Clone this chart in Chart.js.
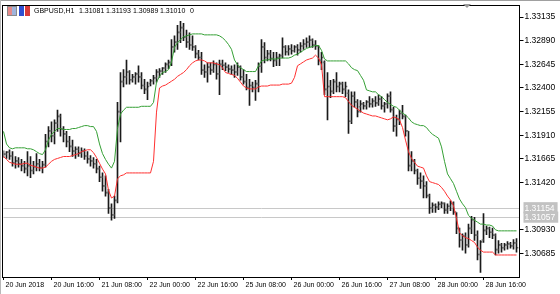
<!DOCTYPE html>
<html>
<head>
<meta charset="utf-8">
<script src="https://cdn.jsdelivr.net/npm/chart.js@4.4.1/dist/chart.umd.min.js"></script>
<style>
  html, body { margin: 0; padding: 0; background: #fff; }
  #wrap { position: relative; width: 560px; height: 294px; overflow: hidden; }
  #wrap canvas { position: absolute; left: 0; top: 0; }
  .edge-top { position: absolute; left: 0; top: 0; width: 560px; height: 1px; background: #a0a0a0; }
  .edge-left { position: absolute; left: 0; top: 0; width: 1px; height: 294px; background: #b8b8b8; }
  .hdr { position: absolute; top: 6px; font: 7px "Liberation Sans", Arial, sans-serif; line-height: 9px; color: #000; white-space: pre; }
  .ico1 { position: absolute; left: 7px; top: 6px; width: 8px; height: 8px; border: 1px solid #8a8a8a;
          background: linear-gradient(to right, #e58a8a 50%, #9fb4dc 50%); }
  .ico2 { position: absolute; left: 19px; top: 6px; width: 11px; height: 10px;
          background: linear-gradient(to right, #2f4fd0 45%, #fff 45%, #fff 55%, #d83a3a 55%); }
  .shift { position: absolute; left: 463px; top: 4px; width: 0; height: 0;
           border-left: 4px solid transparent; border-right: 4px solid transparent; border-top: 4px solid #9a9a9a; }
</style>
</head>
<body>
<div id="wrap">
  <canvas id="chart" width="560" height="294"></canvas>
  <div class="edge-top"></div>
  <div class="edge-left"></div>
  <div class="ico1"></div>
  <div class="ico2"></div>
  <span class="hdr" style="left:34px">GBPUSD,H1</span>
  <span class="hdr" style="left:79px">1.31081</span>
  <span class="hdr" style="left:106px">1.31193</span>
  <span class="hdr" style="left:133px">1.30989</span>
  <span class="hdr" style="left:160px">1.31010</span>
  <span class="hdr" style="left:190px">0</span>
  <div class="shift"></div>
</div>
<script>
// hourly bars, 20 Jun 2018 00:00 .. 29 Jun 03:00 (weekend skipped)
const tradingDays = ['20 Jun', '21 Jun', '22 Jun', '25 Jun', '26 Jun', '27 Jun', '28 Jun', '29 Jun'];
const categories = [];
tradingDays.forEach(d => {
    for (let h = 0; h < 24; h++) categories.push(d + ' ' + String(h).padStart(2, '0') + ':00');
});
categories.length = 173;

const xTickAt = ['20 Jun 00:00', '20 Jun 16:00', '21 Jun 08:00', '22 Jun 00:00', '22 Jun 16:00', '25 Jun 08:00',
    '26 Jun 00:00', '26 Jun 16:00', '27 Jun 08:00', '28 Jun 00:00', '28 Jun 16:00'];
const xTickLabels = ['20 Jun 2018', '20 Jun 16:00', '21 Jun 08:00', '22 Jun 00:00', '22 Jun 16:00', '25 Jun 08:00',
    '26 Jun 00:00', '26 Jun 16:00', '27 Jun 08:00', '28 Jun 00:00', '28 Jun 16:00'];

const yTicks = [1.33135, 1.32890, 1.32645, 1.32400, 1.32155, 1.31910, 1.31665, 1.31420, 1.31154, 1.31057, 1.30930, 1.30685];
const priceLines = [1.31154, 1.31057];

const opens = [
    1.3172, 1.3171, 1.3173, 1.3169, 1.3162, 1.3164, 1.3161, 1.3159, 1.3156, 1.3159,
    1.3154, 1.3158, 1.3161, 1.3157, 1.3160, 1.3184, 1.3195, 1.3190, 1.3203, 1.3210,
    1.3197, 1.3192, 1.3184, 1.3179, 1.3174, 1.3176, 1.3172, 1.3174, 1.3169, 1.3166,
    1.3164, 1.3161, 1.3156, 1.3147, 1.3138, 1.3131, 1.3115, 1.3108, 1.3123, 1.3215,
    1.3246, 1.3251, 1.3256, 1.3248, 1.3251, 1.3254, 1.3251, 1.3242, 1.3238, 1.3244,
    1.3247, 1.3250, 1.3256, 1.3257, 1.3260, 1.3264, 1.3266, 1.3282, 1.3287, 1.3297,
    1.3302, 1.3292, 1.3287, 1.3284, 1.3282, 1.3275, 1.3271, 1.3258, 1.3256, 1.3261,
    1.3258, 1.3264, 1.3254, 1.3264, 1.3263, 1.3261, 1.3259, 1.3258, 1.3256, 1.3261,
    1.3251, 1.3246, 1.3240, 1.3242, 1.3240, 1.3244, 1.3262, 1.3282, 1.3271, 1.3275,
    1.3270, 1.3268, 1.3271, 1.3273, 1.3282, 1.3277, 1.3280, 1.3278, 1.3282, 1.3279,
    1.3283, 1.3285, 1.3287, 1.3289, 1.3284, 1.3283, 1.3268, 1.3266, 1.3238, 1.3241,
    1.3236, 1.3246, 1.3241, 1.3244, 1.3238, 1.3234, 1.3205, 1.3231, 1.3225, 1.3220,
    1.3223, 1.3221, 1.3225, 1.3223, 1.3226, 1.3224, 1.3228, 1.3221, 1.3223, 1.3231,
    1.3217, 1.3200, 1.3207, 1.3213, 1.3210, 1.3195, 1.3159, 1.3164, 1.3154, 1.3146,
    1.3143, 1.3138, 1.3128, 1.3115, 1.3118, 1.3116, 1.3119, 1.3120, 1.3113, 1.3117,
    1.3120, 1.3111, 1.3094, 1.3082, 1.3086, 1.3077, 1.3094, 1.3103, 1.3087, 1.3067,
    1.3082, 1.3092, 1.3094, 1.3090, 1.3087, 1.3072, 1.3077, 1.3074, 1.3077, 1.3078,
    1.3076, 1.3079
];
const highs = [
    1.3175, 1.3174, 1.3176, 1.3174, 1.3169, 1.3168, 1.3166, 1.3164, 1.3174, 1.3169,
    1.3164, 1.3172, 1.3166, 1.3164, 1.3192, 1.3200, 1.3205, 1.3207, 1.3217, 1.3213,
    1.3200, 1.3195, 1.3190, 1.3186, 1.3179, 1.3179, 1.3178, 1.3177, 1.3174, 1.3170,
    1.3168, 1.3166, 1.3159, 1.3152, 1.3149, 1.3135, 1.3120, 1.3128, 1.3225, 1.3256,
    1.3259, 1.3269, 1.3258, 1.3254, 1.3256, 1.3263, 1.3256, 1.3249, 1.3246, 1.3249,
    1.3253, 1.3259, 1.3260, 1.3261, 1.3266, 1.3269, 1.3290, 1.3294, 1.3305, 1.3309,
    1.3307, 1.3300, 1.3297, 1.3294, 1.3284, 1.3279, 1.3277, 1.3264, 1.3266, 1.3266,
    1.3268, 1.3266, 1.3269, 1.3269, 1.3266, 1.3264, 1.3263, 1.3264, 1.3266, 1.3263,
    1.3259, 1.3254, 1.3249, 1.3246, 1.3248, 1.3266, 1.3290, 1.3287, 1.3279, 1.3279,
    1.3277, 1.3277, 1.3275, 1.3292, 1.3284, 1.3284, 1.3285, 1.3284, 1.3285, 1.3287,
    1.3290, 1.3292, 1.3294, 1.3291, 1.3289, 1.3284, 1.3277, 1.3268, 1.3256, 1.3248,
    1.3249, 1.3256, 1.3246, 1.3246, 1.3246, 1.3238, 1.3236, 1.3236, 1.3228, 1.3227,
    1.3225, 1.3227, 1.3231, 1.3229, 1.3231, 1.3233, 1.3231, 1.3225, 1.3234, 1.3236,
    1.3220, 1.3212, 1.3217, 1.3222, 1.3212, 1.3195, 1.3174, 1.3166, 1.3156, 1.3152,
    1.3149, 1.3143, 1.3130, 1.3121, 1.3120, 1.3122, 1.3122, 1.3121, 1.3120, 1.3123,
    1.3122, 1.3111, 1.3095, 1.3089, 1.3090, 1.3099, 1.3107, 1.3106, 1.3092, 1.3082,
    1.3110, 1.3097, 1.3096, 1.3095, 1.3089, 1.3082, 1.3079, 1.3079, 1.3081, 1.3080,
    1.3083, 1.3084
];
const lows = [
    1.3168, 1.3167, 1.3166, 1.3159, 1.3157, 1.3158, 1.3154, 1.3152, 1.3149, 1.3147,
    1.3151, 1.3154, 1.3154, 1.3152, 1.3158, 1.3179, 1.3184, 1.3182, 1.3195, 1.3190,
    1.3184, 1.3179, 1.3174, 1.3169, 1.3167, 1.3169, 1.3168, 1.3166, 1.3162, 1.3159,
    1.3157, 1.3152, 1.3143, 1.3133, 1.3128, 1.3110, 1.3103, 1.3105, 1.3121, 1.3184,
    1.3241, 1.3244, 1.3244, 1.3246, 1.3244, 1.3246, 1.3239, 1.3234, 1.3228, 1.3242,
    1.3244, 1.3246, 1.3251, 1.3254, 1.3256, 1.3260, 1.3263, 1.3277, 1.3280, 1.3287,
    1.3289, 1.3282, 1.3280, 1.3279, 1.3271, 1.3269, 1.3254, 1.3251, 1.3246, 1.3254,
    1.3256, 1.3249, 1.3233, 1.3259, 1.3258, 1.3256, 1.3254, 1.3251, 1.3253, 1.3248,
    1.3244, 1.3238, 1.3222, 1.3236, 1.3227, 1.3236, 1.3256, 1.3266, 1.3268, 1.3268,
    1.3262, 1.3263, 1.3263, 1.3271, 1.3274, 1.3274, 1.3275, 1.3277, 1.3274, 1.3277,
    1.3280, 1.3282, 1.3282, 1.3282, 1.3280, 1.3264, 1.3259, 1.3233, 1.3207, 1.3230,
    1.3234, 1.3236, 1.3236, 1.3234, 1.3231, 1.3193, 1.3203, 1.3220, 1.3210, 1.3215,
    1.3218, 1.3218, 1.3220, 1.3220, 1.3221, 1.3222, 1.3218, 1.3215, 1.3219, 1.3215,
    1.3195, 1.3190, 1.3202, 1.3208, 1.3190, 1.3154, 1.3154, 1.3151, 1.3140, 1.3136,
    1.3126, 1.3126, 1.3110, 1.3111, 1.3111, 1.3114, 1.3116, 1.3110, 1.3110, 1.3113,
    1.3109, 1.3089, 1.3075, 1.3072, 1.3069, 1.3075, 1.3089, 1.3082, 1.3062, 1.3049,
    1.3080, 1.3088, 1.3085, 1.3084, 1.3067, 1.3069, 1.3070, 1.3072, 1.3073, 1.3074,
    1.3073, 1.3070
];
const closes = [
    1.3171, 1.3173, 1.3169, 1.3162, 1.3164, 1.3161, 1.3159, 1.3156, 1.3159, 1.3154,
    1.3158, 1.3161, 1.3157, 1.3160, 1.3184, 1.3195, 1.3190, 1.3203, 1.3210, 1.3197,
    1.3192, 1.3184, 1.3179, 1.3174, 1.3176, 1.3172, 1.3174, 1.3169, 1.3166, 1.3164,
    1.3161, 1.3156, 1.3147, 1.3138, 1.3131, 1.3115, 1.3108, 1.3123, 1.3215, 1.3246,
    1.3251, 1.3256, 1.3248, 1.3251, 1.3254, 1.3251, 1.3242, 1.3238, 1.3241, 1.3247,
    1.3250, 1.3256, 1.3257, 1.3260, 1.3264, 1.3266, 1.3282, 1.3287, 1.3297, 1.3302,
    1.3292, 1.3287, 1.3284, 1.3282, 1.3275, 1.3271, 1.3258, 1.3256, 1.3261, 1.3258,
    1.3264, 1.3254, 1.3264, 1.3263, 1.3261, 1.3259, 1.3258, 1.3256, 1.3261, 1.3251,
    1.3246, 1.3240, 1.3242, 1.3240, 1.3244, 1.3262, 1.3282, 1.3271, 1.3275, 1.3270,
    1.3268, 1.3271, 1.3273, 1.3282, 1.3277, 1.3280, 1.3278, 1.3282, 1.3279, 1.3283,
    1.3285, 1.3287, 1.3289, 1.3284, 1.3283, 1.3268, 1.3271, 1.3238, 1.3241, 1.3236,
    1.3246, 1.3241, 1.3244, 1.3238, 1.3241, 1.3205, 1.3231, 1.3225, 1.3215, 1.3223,
    1.3221, 1.3225, 1.3223, 1.3226, 1.3224, 1.3228, 1.3221, 1.3223, 1.3231, 1.3217,
    1.3200, 1.3207, 1.3213, 1.3210, 1.3195, 1.3159, 1.3164, 1.3154, 1.3146, 1.3143,
    1.3138, 1.3128, 1.3115, 1.3118, 1.3116, 1.3119, 1.3120, 1.3113, 1.3117, 1.3120,
    1.3111, 1.3094, 1.3082, 1.3086, 1.3077, 1.3094, 1.3103, 1.3087, 1.3067, 1.3080,
    1.3092, 1.3094, 1.3090, 1.3087, 1.3072, 1.3077, 1.3074, 1.3077, 1.3078, 1.3076,
    1.3079, 1.3074
];
// channel lines (green upper, red lower)
const upperBand = [
    1.3195, 1.3182, 1.3178, 1.3177, 1.3178, 1.3178, 1.3178, 1.3178, 1.3177, 1.3177,
    1.3176, 1.3174, 1.3172, 1.3171, 1.3176, 1.3186, 1.3192, 1.3195, 1.3198, 1.3198,
    1.3197, 1.3197, 1.3197, 1.3198, 1.3198, 1.3199, 1.3200, 1.3201, 1.3201, 1.3200,
    1.3200, 1.3195, 1.3182, 1.3172, 1.3166, 1.3161, 1.3157, 1.3164, 1.3198, 1.3213,
    1.3217, 1.3220, 1.3220, 1.3220, 1.3220, 1.3220, 1.3221, 1.3221, 1.3221, 1.3221,
    1.3225, 1.3246, 1.3252, 1.3256, 1.3257, 1.3259, 1.3267, 1.3282, 1.3287, 1.3290,
    1.3293, 1.3294, 1.3295, 1.3296, 1.3296, 1.3296, 1.3296, 1.3295, 1.3295, 1.3295,
    1.3295, 1.3295, 1.3294, 1.3292, 1.3289, 1.3285, 1.3280, 1.3269, 1.3264, 1.3261,
    1.3259, 1.3257, 1.3257, 1.3257, 1.3257, 1.3263, 1.3268, 1.3269, 1.3269, 1.3270,
    1.3270, 1.3270, 1.3271, 1.3271, 1.3271, 1.3271, 1.3272, 1.3274, 1.3275, 1.3277,
    1.3279, 1.3281, 1.3282, 1.3283, 1.3284, 1.3284, 1.3279, 1.3270, 1.3268, 1.3268,
    1.3268, 1.3268, 1.3268, 1.3268, 1.3268, 1.3265, 1.3261, 1.3259, 1.3258, 1.3253,
    1.3248, 1.3238, 1.3237, 1.3236, 1.3236, 1.3233, 1.3231, 1.3228, 1.3225, 1.3223,
    1.3221, 1.3220, 1.3217, 1.3214, 1.3212, 1.3209, 1.3205, 1.3203, 1.3202, 1.3201,
    1.3201, 1.3199, 1.3195, 1.3192, 1.3190, 1.3188, 1.3179, 1.3164, 1.3151, 1.3146,
    1.3141, 1.3133, 1.3125, 1.3120, 1.3116, 1.3108, 1.3105, 1.3103, 1.3101, 1.3099,
    1.3099, 1.3098, 1.3098, 1.3097, 1.3093, 1.3092, 1.3092, 1.3092, 1.3092, 1.3092,
    1.3092, 1.3092
];
const lowerBand = [
    1.3169, 1.3166, 1.3163, 1.3162, 1.3161, 1.3161, 1.3161, 1.3162, 1.3162, 1.3160,
    1.3159, 1.3158, 1.3157, 1.3157, 1.3158, 1.3161, 1.3164, 1.3166, 1.3167, 1.3168,
    1.3169, 1.3169, 1.3169, 1.3170, 1.3171, 1.3172, 1.3174, 1.3175, 1.3176, 1.3176,
    1.3173, 1.3168, 1.3162, 1.3156, 1.3151, 1.3134, 1.3126, 1.3128, 1.3146, 1.3149,
    1.3150, 1.3152, 1.3152, 1.3152, 1.3152, 1.3152, 1.3152, 1.3152, 1.3152, 1.3152,
    1.3164, 1.3215, 1.3240, 1.3242, 1.3243, 1.3245, 1.3247, 1.3249, 1.3252, 1.3254,
    1.3256, 1.3259, 1.3263, 1.3266, 1.3268, 1.3269, 1.3269, 1.3268, 1.3266, 1.3266,
    1.3266, 1.3265, 1.3264, 1.3261, 1.3256, 1.3255, 1.3254, 1.3253, 1.3250, 1.3246,
    1.3242, 1.3240, 1.3239, 1.3239, 1.3239, 1.3241, 1.3242, 1.3242, 1.3242, 1.3243,
    1.3243, 1.3243, 1.3243, 1.3244, 1.3244, 1.3244, 1.3245, 1.3251, 1.3263, 1.3265,
    1.3267, 1.3269, 1.3270, 1.3271, 1.3274, 1.3271, 1.3264, 1.3231, 1.3231, 1.3231,
    1.3231, 1.3231, 1.3231, 1.3231, 1.3230, 1.3226, 1.3222, 1.3220, 1.3218, 1.3216,
    1.3214, 1.3213, 1.3212, 1.3211, 1.3211, 1.3210, 1.3209, 1.3208, 1.3207, 1.3208,
    1.3210, 1.3209, 1.3207, 1.3199, 1.3186, 1.3174, 1.3167, 1.3163, 1.3159, 1.3158,
    1.3157, 1.3149, 1.3143, 1.3142, 1.3141, 1.3140, 1.3137, 1.3133, 1.3128, 1.3124,
    1.3118, 1.3105, 1.3090, 1.3087, 1.3085, 1.3084, 1.3082, 1.3080, 1.3075, 1.3072,
    1.3070, 1.3070, 1.3070, 1.3070, 1.3067, 1.3067, 1.3067, 1.3067, 1.3067, 1.3067,
    1.3067, 1.3067
];

const isPriceLine = v => priceLines.includes(v);

// black frame round the plot area, like the terminal draws it
const framePlugin = {
    id: 'frame',
    afterDraw(chart) {
        const { ctx, chartArea: a } = chart;
        ctx.save();
        ctx.strokeStyle = '#000';
        ctx.lineWidth = 1;
        ctx.strokeRect(Math.floor(a.left) - 0.5, Math.floor(a.top) - 0.5,
            Math.floor(a.right) - Math.floor(a.left) + 1, Math.floor(a.bottom) - Math.floor(a.top) + 1);
        ctx.restore();
    }
};

const font = { family: 'Liberation Sans, Arial, sans-serif' };

new Chart(document.getElementById('chart').getContext('2d'), {
    type: 'bar',
    data: {
        labels: categories,
        datasets: [
            { type: 'line', label: 'upper', data: upperBand, borderColor: '#35a035', borderWidth: 1, pointRadius: 0, tension: 0 },
            { type: 'line', label: 'lower', data: lowerBand, borderColor: '#ff3030', borderWidth: 1, pointRadius: 0, tension: 0 },
            { label: 'open', data: opens.map(o => [o, o]), backgroundColor: '#7a7a7a', minBarLength: 1 },
            { label: 'range', data: lows.map((l, i) => [l, highs[i]]), backgroundColor: '#1a1a1a' },
            { label: 'close', data: closes.map(c => [c, c]), backgroundColor: '#7a7a7a', minBarLength: 1 }
        ]
    },
    options: {
        responsive: false,
        animation: false,
        events: [],
        layout: { padding: { left: 3.5, top: 3, right: 0, bottom: 0 } },
        datasets: { bar: { categoryPercentage: 1, barPercentage: 1 } },
        plugins: { legend: { display: false }, tooltip: { enabled: false } },
        scales: {
            x: {
                offset: false,
                border: { display: false },
                grid: { offset: false, drawOnChartArea: false, tickLength: 3, color: '#000', tickColor: '#000' },
                ticks: {
                    autoSkip: false, maxRotation: 0, align: 'start', labelOffset: 2, padding: 1,
                    color: '#000', font: { ...font, size: 7 },
                    callback: v => xTickLabels[xTickAt.indexOf(categories[v])]
                },
                afterBuildTicks: scale => {
                    scale.ticks = scale.ticks.filter(t => xTickAt.includes(categories[t.value]));
                },
                afterFit: scale => { scale.height = 17; }
            },
            y: {
                position: 'right',
                min: 1.30442,
                max: 1.33248,
                border: { display: false },
                grid: {
                    tickLength: 4,
                    color: c => isPriceLine(c.tick.value) ? '#c8c8c8' : 'rgba(0,0,0,0)',
                    tickColor: c => isPriceLine(c.tick.value) ? 'rgba(0,0,0,0)' : '#000'
                },
                ticks: {
                    padding: 1,
                    font: { ...font, size: 8.5 },
                    color: c => isPriceLine(c.tick.value) ? '#ffffff' : '#000',
                    showLabelBackdrop: c => isPriceLine(c.tick.value),
                    backdropColor: '#c2c2c2',
                    backdropPadding: { left: 1, right: 3, top: 1, bottom: 0 },
                    callback: v => Number(v).toFixed(5)
                },
                afterBuildTicks: scale => { scale.ticks = yTicks.map(v => ({ value: v })); },
                afterFit: scale => { scale.width = 40.5; }
            }
        }
    },
    plugins: [framePlugin]
});
</script>
</body>
</html>
